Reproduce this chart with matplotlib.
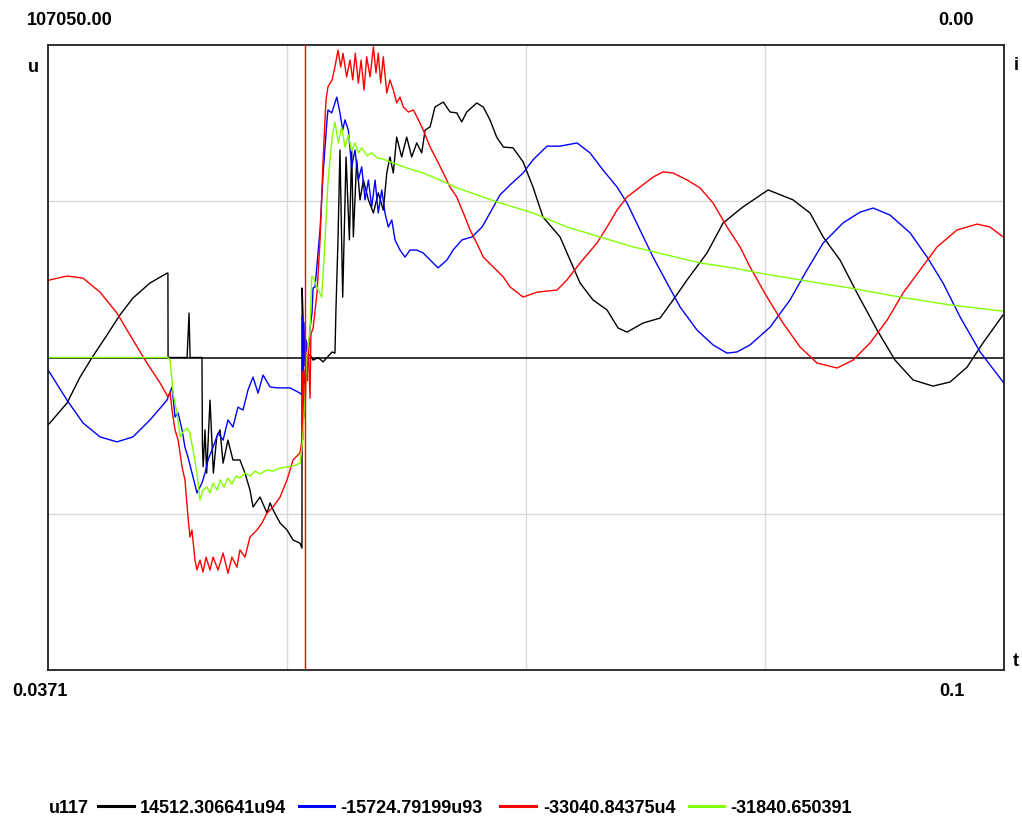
import numpy as np
import matplotlib
matplotlib.use('Agg')
import matplotlib.pyplot as plt
from matplotlib.lines import Line2D

plt.rcParams['font.family'] = ['Liberation Sans', 'DejaVu Sans']

# ---------------------------------------------------------------
# data: time in ms, voltage in kV
# ---------------------------------------------------------------
T_START, T_END = 37.1, 100.0
U_MAX = 107.05

U117 = [(37.10, -23.1), (37.23, -22.4), (38.35, -15.6), (39.21, -6.7), (40.00, 0.0),
        (40.98, 7.7), (41.84, 14.6), (42.69, 20.4), (43.81, 25.5), (44.93, 28.9),
        (44.99, 28.9), (45.00, 0.0), (46.25, 0.0), (46.32, 8.0), (46.38, 15.2),
        (46.45, 0.0), (47.23, 0.0), (47.26, -30.0), (47.31, -37.4), (47.43, -24.8),
        (47.54, -39.6), (47.76, -14.6), (47.98, -39.6), (48.20, -27.2), (48.42, -24.8),
        (48.62, -36.2), (48.94, -28.3), (49.27, -35.1), (49.73, -35.1), (50.06, -39.6),
        (50.39, -45.4), (50.59, -51.2), (51.05, -47.8), (51.51, -53.3), (51.71, -49.8),
        (51.91, -52.2), (52.37, -56.7), (52.83, -59.1), (53.22, -62.5), (53.68, -63.6),
        (53.81, -65.3), (53.82, 23.8), (53.88, 13.9), (53.94, -20.4), (54.08, 0.0),
        (54.34, 0.9), (54.54, -0.9), (54.87, 0.0), (55.20, -1.5), (55.46, 0.0),
        (55.79, 1.9), (55.98, 1.5), (56.05, 17.3), (56.18, 40.3), (56.31, 71.1),
        (56.49, 20.7), (56.71, 68.7), (56.93, 40.3), (57.08, 71.1), (57.19, 41.3),
        (57.41, 67.7), (57.63, 54.0), (57.85, 60.8), (58.18, 54.0), (58.51, 49.5),
        (58.83, 56.4), (59.16, 50.5), (59.39, 63.2), (59.60, 68.7), (59.82, 63.2),
        (60.04, 75.5), (60.37, 68.7), (60.70, 75.5), (61.03, 68.7), (61.36, 73.5),
        (61.69, 70.1), (61.91, 77.9), (62.24, 79.0), (62.56, 85.8), (63.11, 87.5),
        (63.55, 84.1), (63.99, 83.8), (64.32, 80.7), (64.65, 84.1), (65.31, 87.2),
        (65.74, 85.8), (66.18, 81.4), (66.62, 75.5), (67.06, 72.1), (67.70, 71.8),
        (68.36, 67.0), (69.01, 58.4), (69.67, 48.1), (70.79, 41.3), (71.45, 33.4),
        (72.11, 25.5), (72.96, 19.7), (73.88, 16.3), (74.61, 10.1), (75.20, 8.7),
        (76.25, 11.8), (77.37, 13.5), (78.23, 19.7), (79.15, 26.6), (80.46, 35.8),
        (81.52, 46.1), (82.83, 51.6), (84.48, 57.4), (86.12, 54.0), (87.24, 49.5),
        (88.10, 41.3), (89.21, 33.4), (90.33, 22.1), (91.65, 9.4), (92.83, -0.9),
        (94.02, -7.7), (95.33, -9.8), (96.45, -8.4), (97.57, -3.3), (98.62, 5.0),
        (99.94, 14.6)]

U94 = [(37.10, -4.3), (37.23, -5.3), (38.35, -14.6), (39.40, -22.4), (40.52, -27.2),
       (41.64, -28.9), (42.69, -27.2), (43.81, -21.4), (44.93, -14.6), (45.26, -10.1),
       (45.46, -20.4), (45.66, -19.0), (45.92, -24.8), (46.11, -30.7), (46.31, -34.1),
       (46.64, -40.9), (46.90, -46.4), (47.23, -43.0), (47.43, -39.6), (47.63, -35.1),
       (47.96, -30.7), (48.29, -25.9), (48.62, -28.3), (48.94, -21.4), (49.27, -23.8),
       (49.60, -17.0), (49.93, -18.0), (50.26, -11.1), (50.59, -6.7), (50.92, -12.2),
       (51.25, -6.0), (51.71, -10.1), (52.17, -10.4), (53.02, -10.4), (53.68, -12.2),
       (53.81, -12.8), (53.84, 13.9), (53.88, -10.0), (53.94, 12.0), (54.01, -3.0),
       (54.08, 6.0), (54.21, -0.9), (54.34, 10.0), (54.47, 15.2), (54.54, 23.8),
       (54.67, 24.2), (55.00, 43.7), (55.20, 63.2), (55.46, 81.4), (55.52, 84.8),
       (55.77, 83.8), (56.10, 89.2), (56.31, 83.8), (56.49, 77.9), (56.64, 81.4),
       (56.86, 77.9), (57.08, 65.3), (57.30, 71.1), (57.52, 60.8), (57.74, 65.3),
       (57.96, 54.0), (58.18, 60.8), (58.40, 51.6), (58.62, 60.8), (58.83, 49.5),
       (59.06, 57.4), (59.27, 49.5), (59.49, 44.7), (59.72, 47.1), (59.93, 40.3),
       (60.26, 36.8), (60.59, 34.4), (60.92, 36.8), (61.36, 36.8), (61.79, 35.8),
       (62.24, 33.4), (62.76, 30.7), (63.35, 33.4), (63.75, 36.8), (64.34, 40.3),
       (65.00, 41.3), (65.66, 44.7), (66.18, 49.5), (66.84, 55.7), (67.50, 59.1),
       (68.36, 63.2), (69.01, 67.7), (69.93, 72.4), (70.79, 72.4), (71.91, 73.5),
       (72.76, 70.1), (73.62, 64.2), (74.54, 58.4), (75.20, 52.9), (76.05, 43.7),
       (76.91, 34.4), (77.83, 25.5), (78.69, 17.3), (79.80, 9.4), (80.86, 4.3),
       (81.78, 1.5), (82.43, 1.9), (83.29, 4.3), (84.61, 10.4), (85.92, 19.7),
       (87.04, 30.0), (88.10, 39.2), (89.41, 46.1), (90.53, 49.8), (91.39, 51.2),
       (92.50, 48.8), (93.82, 42.7), (94.94, 34.4), (95.99, 25.5), (97.11, 13.9),
       (98.43, 1.9), (99.94, -8.4)]

U93 = [(37.10, 26.2), (37.23, 26.6), (38.35, 27.9), (39.40, 27.2), (40.52, 22.4),
       (41.64, 15.2), (42.69, 6.0), (43.61, -1.9), (44.47, -8.7), (44.99, -13.5),
       (45.13, -11.8), (45.26, -18.0), (45.46, -24.8), (45.66, -28.3), (45.92, -37.5),
       (46.11, -41.9), (46.31, -54.6), (46.44, -61.5), (46.57, -59.1), (46.77, -69.4),
       (46.90, -72.8), (47.10, -69.4), (47.30, -73.5), (47.50, -68.4), (47.76, -72.8),
       (47.96, -68.4), (48.29, -72.8), (48.62, -67.0), (48.94, -73.9), (49.20, -68.4),
       (49.53, -71.8), (49.73, -65.9), (50.06, -68.4), (50.39, -61.5), (50.85, -59.1),
       (51.18, -56.7), (51.51, -53.3), (51.91, -51.2), (52.37, -47.8), (52.83, -41.9),
       (53.22, -35.1), (53.68, -32.7), (53.81, -28.3), (53.84, -5.0), (53.88, -28.0),
       (53.94, -4.3), (54.01, -20.0), (54.08, -5.0), (54.14, -8.0), (54.21, 5.0),
       (54.34, -13.9), (54.40, 8.0), (54.54, 10.0), (54.80, 22.1), (55.00, 40.3),
       (55.20, 67.7), (55.39, 88.2), (55.52, 92.7), (55.79, 95.1), (55.98, 99.5),
       (56.18, 105.3), (56.36, 99.5), (56.51, 104.2), (56.75, 96.1), (56.97, 101.9),
       (57.15, 95.1), (57.32, 104.2), (57.52, 94.0), (57.70, 101.9), (57.89, 91.6),
       (58.07, 103.0), (58.29, 96.1), (58.51, 106.4), (58.68, 97.5), (58.83, 104.2),
       (58.99, 94.0), (59.16, 103.0), (59.39, 90.6), (59.60, 95.1), (59.82, 91.6),
       (60.04, 87.2), (60.26, 89.2), (60.48, 85.8), (60.81, 84.1), (61.14, 84.8),
       (61.47, 81.4), (61.79, 77.9), (62.24, 72.1), (62.68, 67.7), (63.11, 63.2),
       (63.55, 58.4), (63.99, 55.0), (64.43, 49.5), (64.87, 43.7), (65.31, 39.2),
       (65.74, 34.4), (66.40, 31.0), (67.06, 27.6), (67.50, 24.2), (68.36, 20.7),
       (69.28, 22.4), (70.59, 23.1), (71.25, 26.6), (72.11, 32.4), (73.22, 39.2),
       (73.88, 44.7), (74.54, 50.5), (75.20, 55.0), (76.05, 58.4), (76.91, 61.8),
       (77.57, 63.6), (78.23, 63.2), (79.15, 60.8), (80.00, 58.1), (80.86, 52.9),
       (81.78, 44.7), (82.63, 37.9), (83.29, 31.0), (84.41, 20.7), (85.46, 11.8),
       (86.58, 3.6), (87.70, -1.9), (89.02, -3.6), (90.07, -0.9), (91.19, 5.0),
       (92.31, 12.8), (93.36, 22.1), (94.48, 30.0), (95.60, 37.9), (96.91, 43.7),
       (98.23, 45.7), (99.08, 44.7), (99.94, 41.3)]

U4 = [(37.10, 0.0), (44.99, 0.0), (45.13, -0.9), (45.33, -12.2), (45.59, -19.0),
      (45.79, -27.2), (45.98, -25.5), (46.25, -24.2), (46.44, -25.9), (46.64, -31.7),
      (46.90, -39.6), (47.10, -48.8), (47.30, -45.4), (47.56, -44.4), (47.76, -46.4),
      (47.96, -43.0), (48.22, -45.4), (48.42, -41.9), (48.68, -44.4), (48.94, -41.3),
      (49.20, -43.4), (49.47, -40.6), (49.73, -41.3), (50.06, -39.6), (50.39, -40.6),
      (50.72, -38.9), (51.05, -39.9), (51.51, -38.5), (51.91, -38.9), (52.37, -37.9),
      (52.83, -37.5), (53.22, -37.2), (53.68, -36.2), (53.86, -28.3), (54.01, -13.5),
      (54.12, 0.0), (54.34, 9.4), (54.45, 27.6), (54.54, 27.6), (54.78, 24.2),
      (55.11, 20.7), (55.33, 40.3), (55.52, 59.8), (55.79, 75.5), (55.98, 80.7),
      (56.20, 73.5), (56.42, 79.0), (56.64, 72.1), (56.86, 76.2), (57.08, 70.8),
      (57.30, 73.5), (57.52, 70.1), (57.74, 71.8), (58.09, 69.1), (58.40, 70.1),
      (58.75, 68.4), (59.16, 68.0), (59.60, 67.0), (60.15, 66.0), (60.72, 64.9),
      (61.78, 63.2), (62.89, 60.8), (64.01, 58.1), (65.33, 55.7), (66.64, 53.3),
      (69.01, 49.5), (71.25, 44.7), (73.42, 41.3), (75.59, 37.9), (77.83, 35.1),
      (80.00, 32.4), (82.17, 30.7), (83.95, 28.9), (86.58, 26.6), (89.87, 23.8),
      (93.16, 20.7), (96.45, 18.0), (99.94, 15.9)]

CURSOR_T = 53.98   # red cursor line

NAMES = ['u117', 'u94', 'u93', 'u4']
VALUES = ['14512.306641', '-15724.79199', '-33040.84375', '-31840.650391']
COLORS = ['#000000', '#0000ff', '#ff0000', '#80ff00']
SERIES = [U117, U94, U93, U4]

# ---------------------------------------------------------------
# figure
# ---------------------------------------------------------------
W, H = 1022, 816
fig = plt.figure(figsize=(W / 100, H / 100), dpi=100)
fig.patch.set_facecolor('white')
ax = fig.add_axes([48 / W, 1 - 670 / H, 956 / W, 625 / H])


def fpos(x, y):
    # pixel position -> figure fraction
    return x / W, 1 - y / H


ax.set_xlim(T_START, T_END)
ax.set_ylim(-U_MAX, U_MAX)

# grid: 4 divisions in time, 4 in voltage
for tx in np.linspace(T_START, T_END, 5)[1:-1]:
    ax.axvline(tx, color='#d9d9d9', lw=1.0, zorder=0)
for uy in (-U_MAX / 2, U_MAX / 2):
    ax.axhline(uy, color='#d9d9d9', lw=1.0, zorder=0)
ax.axhline(0, color='black', lw=1.1, zorder=1)

for data, col in zip(SERIES, COLORS):
    arr = np.array(data)
    ax.plot(arr[:, 0], arr[:, 1], color=col, lw=1.0, zorder=2)

ax.axvline(CURSOR_T, color='#ff0000', lw=1.0, zorder=5)

ax.set_xticks([])
ax.set_yticks([])
for sp in ax.spines.values():
    sp.set_color('#202020')
    sp.set_linewidth(1.3)

# corner labels
txt = dict(fontsize=13, fontweight='bold', va='baseline', ha='left')
fig.text(*fpos(27, 25), '107050.00', **txt)
fig.text(*fpos(938, 25), '0.00', **txt)
fig.text(*fpos(28, 72), 'u', **txt)
fig.text(*fpos(1014, 70), 'i', **txt)
fig.text(*fpos(1013, 666), 't', **txt)
fig.text(*fpos(12, 696), '0.0371', **txt)
fig.text(*fpos(939, 696), '0.1', **txt)

# bottom legend: name, swatch, value+next name ...
pieces = [NAMES[0]] + [VALUES[i] + (NAMES[i + 1] if i + 1 < len(NAMES) else '')
                       for i in range(len(NAMES))]
piece_x = [49, 140, 340, 543, 730]
swatch_x = [(98, 134), (299, 334), (500, 536), (689, 724)]
for s, x in zip(pieces, piece_x):
    fig.text(*fpos(x, 813), s, **txt)
for (x0, x1), col in zip(swatch_x, COLORS):
    fig.add_artist(Line2D([x0 / W, x1 / W], [1 - 806 / H] * 2,
                          transform=fig.transFigure, color=col, lw=2.2))

fig.savefig('out.png', dpi=100)
